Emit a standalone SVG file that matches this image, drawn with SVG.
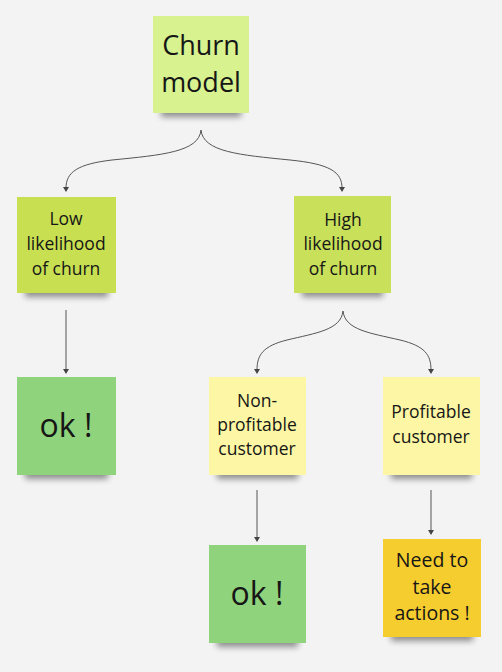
<svg xmlns="http://www.w3.org/2000/svg" width="502" height="672" viewBox="0 0 502 672">
<style>
.t{font-family:"Open Sans","Noto Sans","DejaVu Sans",sans-serif;fill:#161616;text-anchor:middle}
.m{font-size:17.5px}
.c{fill:none;stroke:#555;stroke-width:1}
.ah{fill:#444}
.sh{fill:#000;opacity:0.42;filter:url(#blur)}
</style>
<defs>
<filter id="blur" x="-20%" y="-50%" width="140%" height="200%"><feGaussianBlur stdDeviation="3"/></filter>
</defs>
<rect width="502" height="672" fill="#f3f3f3"/>
<g id="connectors">
<path class="c" d="M201,130 C199,152 162,155 112,160 C78,164 66,172 66,188"/>
<path class="c" d="M201,130 C203,152 240,155 290,160 C330,164 342,172 342,188"/>
<path class="c" d="M66,310 L66,370"/>
<path class="c" d="M343,311 C341,330 316,333 287,340 C263,346 257,355 257,370"/>
<path class="c" d="M343,311 C345,330 370,333 400,340 C425,346 431,355 431,370"/>
<path class="c" d="M257,490 L257,538"/>
<path class="c" d="M431,490 L431,531"/>
<path class="ah" d="M63,187 L69,187 L66,192 Z"/>
<path class="ah" d="M339,187 L345,187 L342,192 Z"/>
<path class="ah" d="M63,369 L69,369 L66,374 Z"/>
<path class="ah" d="M254,369 L260,369 L257,374 Z"/>
<path class="ah" d="M428,369 L434,369 L431,374 Z"/>
<path class="ah" d="M254,537 L260,537 L257,542 Z"/>
<path class="ah" d="M428,530 L434,530 L431,535 Z"/>
</g>
<g id="churn-model">
<rect class="sh" x="161" y="103" width="80" height="14"/>
<rect x="153" y="16" width="96" height="97" fill="#d7f28e"/>
<text class="t" x="201" y="55" font-size="27">Churn</text>
<text class="t" x="201" y="92" font-size="27">model</text>
</g>
<g id="low-likelihood">
<rect class="sh" x="25" y="283" width="83" height="14"/>
<rect x="17" y="197" width="99" height="96" fill="#c8df52"/>
<text class="t m" x="66" y="225">Low</text>
<text class="t m" x="66" y="250">likelihood</text>
<text class="t m" x="66" y="275">of churn</text>
</g>
<g id="high-likelihood">
<rect class="sh" x="302" y="283" width="81" height="14"/>
<rect x="294" y="196" width="97" height="97" fill="#c8e05a"/>
<text class="t m" x="343" y="226">High</text>
<text class="t m" x="343" y="250">likelihood</text>
<text class="t m" x="343" y="275">of churn</text>
</g>
<g id="ok-left">
<rect class="sh" x="25" y="465" width="83" height="14"/>
<rect x="17" y="377" width="99" height="98" fill="#8fd37c"/>
<text class="t" x="66" y="437" font-size="32">ok !</text>
</g>
<g id="non-profitable">
<rect class="sh" x="217" y="465" width="81" height="14"/>
<rect x="209" y="377" width="97" height="98" fill="#fdf6a4"/>
<text class="t m" x="257" y="407">Non-</text>
<text class="t m" x="257" y="431">profitable</text>
<text class="t m" x="257" y="455">customer</text>
</g>
<g id="profitable">
<rect class="sh" x="391" y="465" width="81" height="14"/>
<rect x="383" y="377" width="97" height="98" fill="#fdf6a4"/>
<text class="t m" x="431" y="418">Profitable</text>
<text class="t m" x="431" y="443">customer</text>
</g>
<g id="ok-bottom">
<rect class="sh" x="217" y="633" width="81" height="14"/>
<rect x="209" y="545" width="97" height="98" fill="#8fd37c"/>
<text class="t" x="257" y="605" font-size="32">ok !</text>
</g>
<g id="need-actions">
<rect class="sh" x="391" y="627" width="82" height="14"/>
<rect x="383" y="539" width="98" height="98" fill="#f6cd2e"/>
<text class="t" x="432" y="567" font-size="19.5">Need to</text>
<text class="t" x="432" y="594" font-size="19.5">take</text>
<text class="t" x="432" y="620" font-size="19.5">actions !</text>
</g>
</svg>
